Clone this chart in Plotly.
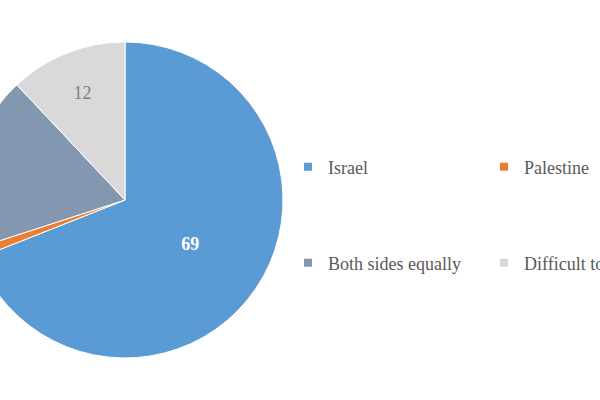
import plotly.graph_objects as go

labels = ["Israel", "Palestine", "Both sides equally", "Difficult to say"]
values = [69, 1, 18, 12]
colors = ["#5B9BD5", "#ED7D31", "#8497B0", "#D9D9D9"]
label_shown = [True, False, False, True]
label_colors = ["#FFFFFF", "#FFFFFF", "#FFFFFF", "#7F7F7F"]
label_bold = [True, False, False, False]

W, H, SHIFT = 800, 400, 100
FONT = "Liberation Serif, Times New Roman, serif"

texts = []
for v, s, b in zip(values, label_shown, label_bold):
    if not s:
        texts.append("")
    elif b:
        texts.append(f"<b>{v}</b>")
    else:
        texts.append(str(v))

fig = go.Figure()
cx, cy, r = 125 + SHIFT, 200, 158
fig.add_trace(go.Pie(
    labels=labels, values=values, sort=False, direction="clockwise", rotation=0,
    marker=dict(colors=colors, line=dict(color="white", width=1)),
    text=texts, textinfo="text", textposition="inside",
    insidetextorientation="horizontal",
    textfont=dict(family=FONT, size=18, color=label_colors),
    showlegend=False,
    domain=dict(x=[(cx - r) / W, (cx + r) / W], y=[(cy - r) / H, (cy + r) / H]),
))

legend_names = ["legend", "legend2", "legend3", "legend4"]
legend_pos = [(327, 167), (523, 167), (327, 263), (523, 263)]
TEXT_OFF = 39
layout_legends = {}
for lab, col, ln, (tx, ty) in zip(labels, colors, legend_names, legend_pos):
    fig.add_trace(go.Scatter(x=[None], y=[None], mode="markers", name=lab,
                             marker=dict(symbol="square", size=8, color=col),
                             legend=ln, showlegend=True))
    layout_legends[ln] = dict(
        x=(tx - TEXT_OFF + SHIFT) / W, y=1 - ty / H, xanchor="left", yanchor="middle",
        font=dict(family=FONT, size=18, color="#595959"),
        bgcolor="rgba(0,0,0,0)", itemwidth=30,
    )

fig.update_layout(
    width=W, height=H, margin=dict(l=0, r=0, t=0, b=0),
    paper_bgcolor="white", plot_bgcolor="white",
    font=dict(family=FONT),
    xaxis=dict(visible=False), yaxis=dict(visible=False),
    **layout_legends,
)

post = (
    "var gd=document.getElementById('{plot_id}');"
    "gd.style.marginLeft='-" + str(SHIFT) + "px';"
    "document.body.style.margin='0';"
    "document.body.style.overflow='hidden';"
    "document.documentElement.style.overflow='hidden';"
)
fig.write_html("out.html", post_script=post, config={"displayModeBar": False})
